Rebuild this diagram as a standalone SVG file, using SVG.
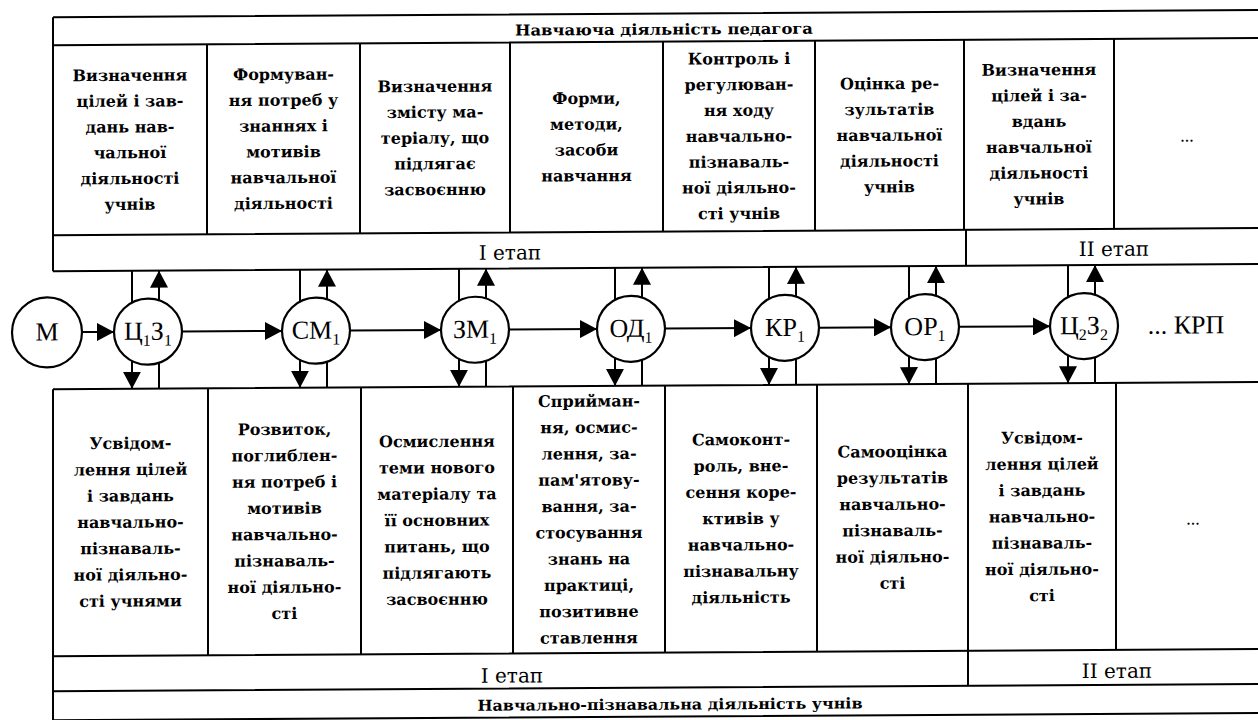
<svg xmlns="http://www.w3.org/2000/svg" width="1258" height="720" viewBox="0 0 1258 720">
  <defs>
    <marker id="ah" viewBox="0 0 17 18" refX="17" refY="9" markerWidth="17" markerHeight="18" markerUnits="userSpaceOnUse" orient="auto">
      <path d="M0,0 L17,9 L0,18 z" fill="#000"/>
    </marker>
  </defs>
  <style>
    .ln{stroke:#000;stroke-width:2;fill:none}
    .cn{stroke:#000;stroke-width:2;fill:none}
    .nd{fill:#fff;stroke:#000;stroke-width:2.2}
    .bx{font-family:"DejaVu Serif","Liberation Serif",serif;font-weight:bold;font-size:16px;text-anchor:middle;fill:#000}
    .lb{font-family:"Liberation Serif","DejaVu Serif",serif;font-size:26px;text-anchor:middle;fill:#000}
    .sub{font-size:16px}
    .st{font-family:"DejaVu Serif","Liberation Serif",serif;font-size:20px;text-anchor:middle;fill:#000}
    .hd{font-family:"DejaVu Serif","Liberation Serif",serif;font-weight:bold;font-size:15px;text-anchor:middle;fill:#000}
    .dt{font-family:"Liberation Serif",serif;font-size:18px;text-anchor:middle;fill:#000}
  </style>
  <rect width="1258" height="720" fill="#fff"/>
  <!-- slight skew of the whole sheet -->
  <g transform="matrix(1 -0.006 0 1 0 0.6)">
    <!-- table frame -->
    <g id="frame">
      <path class="ln" d="M53,17 H1262 M53,45 H1262 M53,235 H1262 M53,271 H1262 M53,17 V271"/>
      <path class="ln" d="M207,45 V235 M360,45 V235 M510,45 V235 M663,45 V235 M815,45 V235 M964,45 V235 M1114,45 V235 M966,235 V271"/>
      <path class="ln" d="M53,389 H1262 M53,656 H1262 M53,691 H1262 M53,720 H1262 M53,389 V722"/>
      <path class="ln" d="M208,389 V656 M361,389 V656 M513,389 V656 M665,389 V656 M817,389 V656 M968,389 V656 M1116,389 V656 M968,656 V691"/>
    </g>

    <g id="header-top">
      <text class="hd" x="664" y="38" textLength="298" lengthAdjust="spacingAndGlyphs">Навчаюча діяльність педагога</text>
    </g>

    <!-- teacher activity cells -->
    <g id="t1"><text class="bx"><tspan x="130" y="81">Визначення</tspan><tspan x="130" dy="25.8">цілей і зав-</tspan><tspan x="130" dy="25.8">дань нав-</tspan><tspan x="130" dy="25.8">чальної</tspan><tspan x="130" dy="25.8">діяльності</tspan><tspan x="130" dy="25.8">учнів</tspan></text></g>
    <g id="t2"><text class="bx"><tspan x="283.5" y="81">Формуван-</tspan><tspan x="283.5" dy="25.8">ня потреб у</tspan><tspan x="283.5" dy="25.8">знаннях і</tspan><tspan x="283.5" dy="25.8">мотивів</tspan><tspan x="283.5" dy="25.8">навчальної</tspan><tspan x="283.5" dy="25.8">діяльності</tspan></text></g>
    <g id="t3"><text class="bx"><tspan x="435" y="93.9">Визначення</tspan><tspan x="435" dy="25.8">змісту ма-</tspan><tspan x="435" dy="25.8">теріалу, що</tspan><tspan x="435" dy="25.8">підлягає</tspan><tspan x="435" dy="25.8">засвоєнню</tspan></text></g>
    <g id="t4"><text class="bx"><tspan x="586.5" y="106.8">Форми,</tspan><tspan x="586.5" dy="25.8">методи,</tspan><tspan x="586.5" dy="25.8">засоби</tspan><tspan x="586.5" dy="25.8">навчання</tspan></text></g>
    <g id="t5"><text class="bx"><tspan x="739" y="68.1">Контроль і</tspan><tspan x="739" dy="25.8">регулюван-</tspan><tspan x="739" dy="25.8">ня ходу</tspan><tspan x="739" dy="25.8">навчально-</tspan><tspan x="739" dy="25.8">пізнаваль-</tspan><tspan x="739" dy="25.8">ної діяльно-</tspan><tspan x="739" dy="25.8">сті учнів</tspan></text></g>
    <g id="t6"><text class="bx"><tspan x="889.5" y="93.9">Оцінка ре-</tspan><tspan x="889.5" dy="25.8">зультатів</tspan><tspan x="889.5" dy="25.8">навчальної</tspan><tspan x="889.5" dy="25.8">діяльності</tspan><tspan x="889.5" dy="25.8">учнів</tspan></text></g>
    <g id="t7"><text class="bx"><tspan x="1039" y="81">Визначення</tspan><tspan x="1039" dy="25.8">цілей і за-</tspan><tspan x="1039" dy="25.8">вдань</tspan><tspan x="1039" dy="25.8">навчальної</tspan><tspan x="1039" dy="25.8">діяльності</tspan><tspan x="1039" dy="25.8">учнів</tspan></text></g>
    <g id="t8"><text class="dt" x="1187" y="148">...</text></g>

    <g id="stage-top">
      <text class="st" x="510" y="262">I етап</text>
      <text class="st" x="1114" y="262">II етап</text>
    </g>

    <!-- lesson stages -->
    <g id="n-m"><ellipse class="nd" cx="47" cy="332" rx="35" ry="35"/><text class="lb" x="47" y="340">М</text></g>
    <g id="n-cz1"><ellipse class="nd" cx="148" cy="332" rx="34" ry="33"/><text class="lb" x="148" y="340">Ц<tspan class="sub" dy="6">1</tspan><tspan dy="-6">З</tspan><tspan class="sub" dy="6">1</tspan></text></g>
    <g id="n-sm1"><ellipse class="nd" cx="316" cy="332" rx="34" ry="33"/><text class="lb" x="316" y="340">СМ<tspan class="sub" dy="6">1</tspan></text></g>
    <g id="n-zm1"><ellipse class="nd" cx="475" cy="332" rx="34" ry="33"/><text class="lb" x="475" y="340">ЗМ<tspan class="sub" dy="6">1</tspan></text></g>
    <g id="n-od1"><ellipse class="nd" cx="631" cy="332" rx="34" ry="33"/><text class="lb" x="631" y="340">ОД<tspan class="sub" dy="6">1</tspan></text></g>
    <g id="n-kr1"><ellipse class="nd" cx="785" cy="332" rx="34" ry="33"/><text class="lb" x="785" y="340">КР<tspan class="sub" dy="6">1</tspan></text></g>
    <g id="n-or1"><ellipse class="nd" cx="925" cy="332" rx="34" ry="33"/><text class="lb" x="925" y="340">ОР<tspan class="sub" dy="6">1</tspan></text></g>
    <g id="n-cz2"><ellipse class="nd" cx="1084" cy="332" rx="34" ry="33"/><text class="lb" x="1084" y="340">Ц<tspan class="sub" dy="6">2</tspan><tspan dy="-6">З</tspan><tspan class="sub" dy="6">2</tspan></text></g>
    <g id="n-krp"><text class="lb" x="1186" y="340">... КРП</text></g>

    <!-- connectors -->
    <g id="connectors">
      <path class="cn" marker-end="url(#ah)" d="M82,332 H114"/>
      <path class="cn" marker-end="url(#ah)" d="M182,332 H282"/>
      <path class="cn" marker-end="url(#ah)" d="M350,332 H441"/>
      <path class="cn" marker-end="url(#ah)" d="M509,332 H597"/>
      <path class="cn" marker-end="url(#ah)" d="M665,332 H751"/>
      <path class="cn" marker-end="url(#ah)" d="M819,332 H891"/>
      <path class="cn" marker-end="url(#ah)" d="M959,332 H1050"/>

      <path class="cn" d="M132,303 V271 M159,363 V389"/>
      <path class="cn" marker-end="url(#ah)" d="M159,301 V271"/>
      <path class="cn" marker-end="url(#ah)" d="M132,361 V389"/>

      <path class="cn" d="M300,303 V271 M327,363 V389"/>
      <path class="cn" marker-end="url(#ah)" d="M327,301 V271"/>
      <path class="cn" marker-end="url(#ah)" d="M300,361 V389"/>

      <path class="cn" d="M459,303 V271 M486,363 V389"/>
      <path class="cn" marker-end="url(#ah)" d="M486,301 V271"/>
      <path class="cn" marker-end="url(#ah)" d="M459,361 V389"/>

      <path class="cn" d="M615,303 V271 M642,363 V389"/>
      <path class="cn" marker-end="url(#ah)" d="M642,301 V271"/>
      <path class="cn" marker-end="url(#ah)" d="M615,361 V389"/>

      <path class="cn" d="M769,303 V271 M796,363 V389"/>
      <path class="cn" marker-end="url(#ah)" d="M796,301 V271"/>
      <path class="cn" marker-end="url(#ah)" d="M769,361 V389"/>

      <path class="cn" d="M909,303 V271 M936,363 V389"/>
      <path class="cn" marker-end="url(#ah)" d="M936,301 V271"/>
      <path class="cn" marker-end="url(#ah)" d="M909,361 V389"/>

      <path class="cn" d="M1068,303 V271 M1095,363 V389"/>
      <path class="cn" marker-end="url(#ah)" d="M1095,301 V271"/>
      <path class="cn" marker-end="url(#ah)" d="M1068,361 V389"/>
    </g>

    <!-- student activity cells -->
    <g id="s1"><text class="bx"><tspan x="130.5" y="449">Усвідом-</tspan><tspan x="130.5" dy="26.3">лення цілей</tspan><tspan x="130.5" dy="26.3">і завдань</tspan><tspan x="130.5" dy="26.3">навчально-</tspan><tspan x="130.5" dy="26.3">пізнаваль-</tspan><tspan x="130.5" dy="26.3">ної діяльно-</tspan><tspan x="130.5" dy="26.3">сті учнями</tspan></text></g>
    <g id="s2"><text class="bx"><tspan x="284.5" y="436">Розвиток,</tspan><tspan x="284.5" dy="26.3">поглиблен-</tspan><tspan x="284.5" dy="26.3">ня потреб і</tspan><tspan x="284.5" dy="26.3">мотивів</tspan><tspan x="284.5" dy="26.3">навчально-</tspan><tspan x="284.5" dy="26.3">пізнаваль-</tspan><tspan x="284.5" dy="26.3">ної діяльно-</tspan><tspan x="284.5" dy="26.3">сті</tspan></text></g>
    <g id="s3"><text class="bx"><tspan x="437" y="449">Осмислення</tspan><tspan x="437" dy="26.3">теми нового</tspan><tspan x="437" dy="26.3">матеріалу та</tspan><tspan x="437" dy="26.3">її основних</tspan><tspan x="437" dy="26.3">питань, що</tspan><tspan x="437" dy="26.3">підлягають</tspan><tspan x="437" dy="26.3">засвоєнню</tspan></text></g>
    <g id="s4"><text class="bx"><tspan x="589" y="409.6">Сприйман-</tspan><tspan x="589" dy="26.3">ня, осмис-</tspan><tspan x="589" dy="26.3">лення, за-</tspan><tspan x="589" dy="26.3">пам'ятову-</tspan><tspan x="589" dy="26.3">вання, за-</tspan><tspan x="589" dy="26.3">стосування</tspan><tspan x="589" dy="26.3">знань на</tspan><tspan x="589" dy="26.3">практиці,</tspan><tspan x="589" dy="26.3">позитивне</tspan><tspan x="589" dy="26.3">ставлення</tspan></text></g>
    <g id="s5"><text class="bx"><tspan x="741" y="449">Самоконт-</tspan><tspan x="741" dy="26.3">роль, вне-</tspan><tspan x="741" dy="26.3">сення коре-</tspan><tspan x="741" dy="26.3">ктивів у</tspan><tspan x="741" dy="26.3">навчально-</tspan><tspan x="741" dy="26.3">пізнавальну</tspan><tspan x="741" dy="26.3">діяльність</tspan></text></g>
    <g id="s6"><text class="bx"><tspan x="892.5" y="462">Самооцінка</tspan><tspan x="892.5" dy="26.3">результатів</tspan><tspan x="892.5" dy="26.3">навчально-</tspan><tspan x="892.5" dy="26.3">пізнаваль-</tspan><tspan x="892.5" dy="26.3">ної діяльно-</tspan><tspan x="892.5" dy="26.3">сті</tspan></text></g>
    <g id="s7"><text class="bx"><tspan x="1042" y="449">Усвідом-</tspan><tspan x="1042" dy="26.3">лення цілей</tspan><tspan x="1042" dy="26.3">і завдань</tspan><tspan x="1042" dy="26.3">навчально-</tspan><tspan x="1042" dy="26.3">пізнаваль-</tspan><tspan x="1042" dy="26.3">ної діяльно-</tspan><tspan x="1042" dy="26.3">сті</tspan></text></g>
    <g id="s8"><text class="dt" x="1193" y="531">...</text></g>

    <g id="stage-bottom">
      <text class="st" x="512" y="685">I етап</text>
      <text class="st" x="1117" y="684">II етап</text>
    </g>

    <g id="header-bottom">
      <text class="hd" x="670" y="713" textLength="385" lengthAdjust="spacingAndGlyphs">Навчально-пізнавальна діяльність учнів</text>
    </g>
  </g>
</svg>
